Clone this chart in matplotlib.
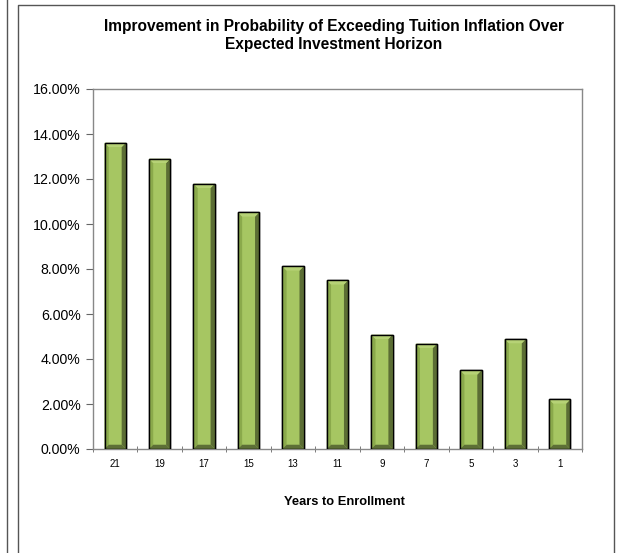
import matplotlib.pyplot as plt
from matplotlib.patches import Polygon
from matplotlib.ticker import FuncFormatter, MultipleLocator
import numpy as np

plt.rcParams['font.family'] = ['Liberation Sans', 'DejaVu Sans']

years = ['21', '19', '17', '15', '13', '11', '9', '7', '5', '3', '1']
improvement = [13.61, 12.90, 11.79, 10.52, 8.12, 7.50, 5.08, 4.68, 3.50, 4.89, 2.21]

fig = plt.figure(figsize=(6.17, 5.53), dpi=100)
ax = fig.add_axes([93/617, 1 - 449/553, (582-93)/617, (449-89)/553])

# outer frame lines
fig.add_artist(plt.Line2D([7/617, 7/617], [0, 1], color='#555555', lw=1))
fig.add_artist(plt.Line2D([18/617, 18/617, 614/617, 614/617],
                          [0, 1 - 5/553, 1 - 5/553, 0], color='#555555', lw=1))

x = np.arange(len(years))
w = 0.48
face = '#a6c662'
left_c = '#8aa94b'
right_c = '#5b6d34'
top_c = '#b6d276'
bot_c = '#5d6f36'
bx = 0.095   # bevel width (category units)
by = 0.19    # bevel height (percent units)

ax.bar(x, improvement, width=w, color=face, edgecolor='black', linewidth=1.0, zorder=3)
for xi, h in zip(x, improvement):
    l, r = xi - w / 2, xi + w / 2
    bevels = [
        ([(l, 0), (l + bx, by), (l + bx, h - by), (l, h)], left_c),
        ([(r, 0), (r - bx, by), (r - bx, h - by), (r, h)], right_c),
        ([(l, h), (l + bx, h - by), (r - bx, h - by), (r, h)], top_c),
        ([(l, 0), (l + bx, by), (r - bx, by), (r, 0)], bot_c),
    ]
    for pts, c in bevels:
        ax.add_patch(Polygon(pts, closed=True, facecolor=c, edgecolor='none', zorder=4))
    ax.add_patch(plt.Rectangle((l, 0), w, h, fill=False, edgecolor='black', lw=1.0, zorder=5))

ax.set_xlim(-0.5, len(years) - 0.5)
ax.set_ylim(0, 16)
ax.yaxis.set_major_locator(MultipleLocator(2))
ax.yaxis.set_major_formatter(FuncFormatter(lambda v, p: f'{v:.2f}%'))
ax.set_xticks(x)
ax.set_xticklabels(years, fontsize=7)
ax.set_xticks(np.arange(-0.5, len(years)), minor=True)
ax.tick_params(axis='x', which='major', length=0, pad=7)
ax.tick_params(axis='x', which='minor', length=5, direction='inout', color='#666666')
ax.tick_params(axis='y', labelsize=10.2, length=5, direction='out', color='#666666', pad=4)
for s in ax.spines.values():
    s.set_color('#888888')
    s.set_linewidth(1.0)

fig.text(334/617, 1 - 35/553,
         'Improvement in Probability of Exceeding Tuition Inflation Over\nExpected Investment Horizon',
         ha='center', va='center', fontsize=11.2, fontweight='bold', linespacing=1.25)
fig.text(344/617, 1 - 502/553, 'Years to Enrollment', ha='center', va='center',
         fontsize=9.3, fontweight='bold')

fig.savefig('out.png', dpi=100)
